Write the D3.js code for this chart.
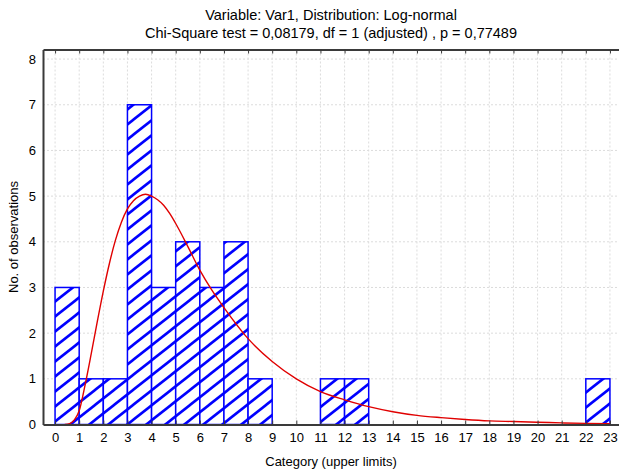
<!DOCTYPE html>
<html>
<head>
<meta charset="utf-8">
<script src="https://cdn.jsdelivr.net/npm/d3@7"></script>
<style>
  body { margin: 0; background: #fff; }
  text { font-family: "Liberation Sans", Arial, sans-serif; fill: #000; }
  .grid line { stroke: #dcdcdc; stroke-dasharray: 2,2; stroke-width: 1; }
</style>
</head>
<body>
<svg id="chart" width="619" height="470"></svg>
<script>
  // titles
  const titleLines = [
    "Variable: Var1, Distribution: Log-normal",
    "Chi-Square test = 0,08179, df = 1 (adjusted) , p = 0,77489"
  ];
  const xTitle = "Category (upper limits)";
  const yTitle = "No. of observations";

  // histogram: upper limit of each category and observed count
  const upperLimits = [1, 2, 3, 4, 5, 6, 7, 8, 9, 10, 11, 12, 13, 14, 15, 16, 17, 18, 19, 20, 21, 22, 23];
  const counts      = [3, 1, 1, 7, 3, 4, 3, 4, 1, 0,  0,  1,  1,  0,  0,  0,  0,  0,  0,  0,  0,  0,  1];

  // fitted log-normal curve (expected counts)
  const curveX = [0.4, 0.6, 0.8, 1, 1.25, 1.5, 1.75, 2, 2.25, 2.5, 2.75, 3, 3.25, 3.5, 3.75, 4, 4.25, 4.5, 4.75, 5, 5.5, 6, 6.5, 7, 8, 9, 10, 11, 12, 13, 14, 15, 16, 17, 18, 19, 20, 21, 22, 23];
  const curveY = [0, 0.02, 0.1, 0.3, 0.88, 1.55, 2.25, 2.92, 3.52, 4.03, 4.43, 4.72, 4.9, 5.0, 5.04, 5.0, 4.92, 4.8, 4.62, 4.4, 3.9, 3.38, 2.94, 2.56, 1.88, 1.38, 1.0, 0.72, 0.54, 0.39, 0.28, 0.2, 0.15, 0.11, 0.08, 0.065, 0.05, 0.035, 0.025, 0.02];

  // tick labels
  const xTicks = d3.range(0, 24);
  const yTicks = [0, 1, 2, 3, 4, 5, 6, 7, 8];

  const svg = d3.select("#chart");

  // plot area
  const plot = { left: 43, right: 622, top: 49.5, bottom: 424.5 };

  const x = d3.scaleLinear().domain([-0.5, 23.5]).range([plot.left, plot.right]);
  const y = d3.scaleLinear().domain([0, 8.21]).range([plot.bottom, plot.top]);

  // hatch pattern for the bars
  const hw = 19, hh = 15;
  const pattern = svg.append("defs").append("pattern")
    .attr("id", "hatch")
    .attr("patternUnits", "userSpaceOnUse")
    .attr("width", hw)
    .attr("height", hh);
  pattern.append("rect").attr("width", hw).attr("height", hh).attr("fill", "#fff");
  [0, hh, -hh].forEach(function(off) {
    pattern.append("line")
      .attr("x1", -hw).attr("y1", hh + off + hh)
      .attr("x2", 2 * hw).attr("y2", off - hh)
      .attr("stroke", "#0000ff")
      .attr("stroke-width", 2.6);
  });

  // gridlines
  const grid = svg.append("g").attr("class", "grid");
  grid.selectAll("line.v")
    .data(xTicks)
    .enter().append("line")
      .attr("class", "v")
      .attr("x1", d => x(d)).attr("x2", d => x(d))
      .attr("y1", plot.top).attr("y2", plot.bottom);
  grid.selectAll("line.h")
    .data(yTicks.slice(1))
    .enter().append("line")
      .attr("class", "h")
      .attr("x1", plot.left).attr("x2", plot.right)
      .attr("y1", d => y(d)).attr("y2", d => y(d));

  // bars
  const bins = upperLimits.map((u, i) => ({ x0: u - 1, x1: u, n: counts[i] }));
  svg.append("g")
    .selectAll("rect")
    .data(bins.filter(d => d.n > 0))
    .enter().append("rect")
      .attr("x", d => x(d.x0))
      .attr("y", d => y(d.n))
      .attr("width", d => x(d.x1) - x(d.x0))
      .attr("height", d => y(0) - y(d.n))
      .attr("fill", "url(#hatch)")
      .attr("stroke", "#0000ff")
      .attr("stroke-width", 1.5);

  // fitted curve
  const line = d3.line()
    .x(d => x(d[0]))
    .y(d => y(d[1]))
    .curve(d3.curveMonotoneX);
  svg.append("path")
    .datum(curveX.map((v, i) => [v, curveY[i]]))
    .attr("d", line)
    .attr("fill", "none")
    .attr("stroke", "#e00000")
    .attr("stroke-width", 1.4);

  // axes (ticks point inward)
  const xAxis = svg.append("g")
    .attr("transform", "translate(0," + plot.bottom + ")")
    .call(d3.axisBottom(x).tickValues(xTicks).tickSizeInner(-4).tickSizeOuter(0).tickPadding(8));
  const xTop = svg.append("g")
    .attr("transform", "translate(0," + plot.top + ")")
    .call(d3.axisTop(x).tickValues(xTicks).tickSizeInner(-4).tickSizeOuter(0).tickFormat(""));
  const yAxis = svg.append("g")
    .attr("transform", "translate(" + plot.left + ",0)")
    .call(d3.axisLeft(y).tickValues(yTicks).tickSizeInner(0).tickSizeOuter(0).tickPadding(7));

  [xAxis, xTop, yAxis].forEach(function(a) {
    a.select(".domain").attr("stroke", "#3a3a3a").attr("stroke-width", 2);
    a.selectAll(".tick line").attr("stroke", "#3a3a3a").attr("stroke-width", 1);
    a.selectAll(".tick text").style("font-size", "13px").attr("fill", "#000");
  });

  // titles
  svg.selectAll("text.title")
    .data(titleLines)
    .enter().append("text")
      .attr("class", "title")
      .attr("x", 331)
      .attr("y", (d, i) => 20 + i * 18)
      .attr("text-anchor", "middle")
      .style("font-size", "14.5px")
      .text(d => d);

  svg.append("text")
    .attr("x", 331)
    .attr("y", 466)
    .attr("text-anchor", "middle")
    .style("font-size", "13px")
    .text(xTitle);

  svg.append("text")
    .attr("transform", "translate(18," + ((plot.top + plot.bottom) / 2) + ") rotate(-90)")
    .attr("text-anchor", "middle")
    .style("font-size", "13px")
    .text(yTitle);
</script>
</body>
</html>
